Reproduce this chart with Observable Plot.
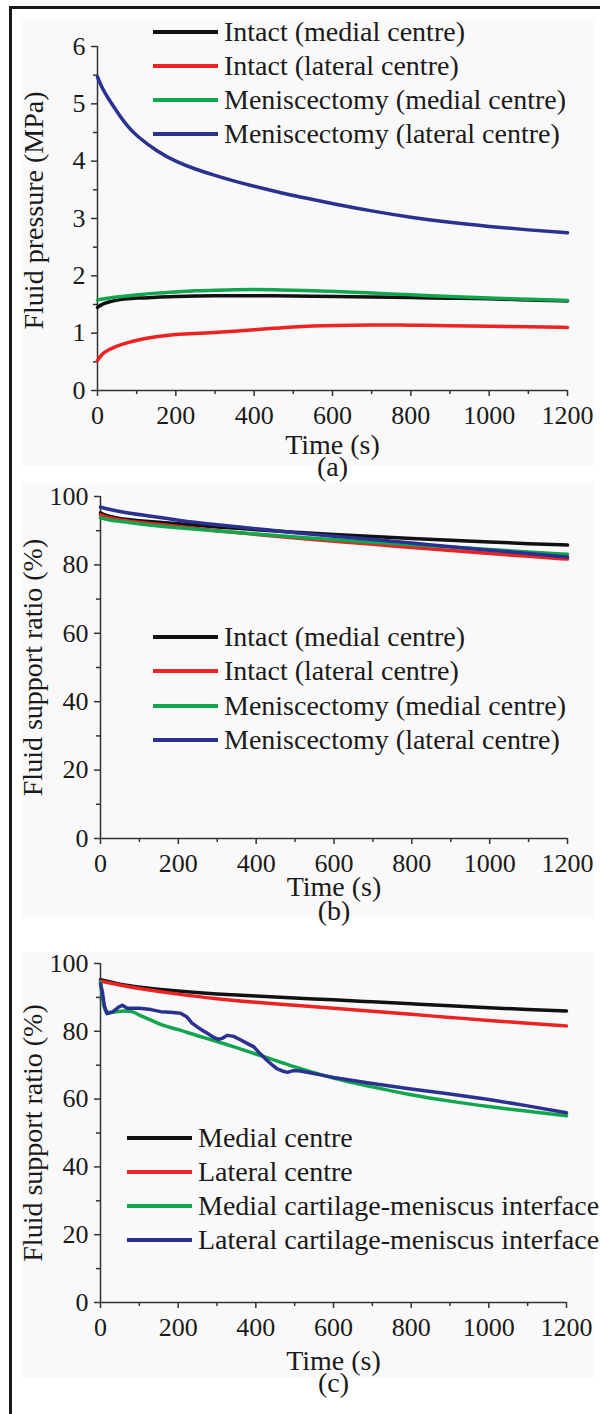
<!DOCTYPE html>
<html><head><meta charset="utf-8">
<script src="https://cdn.jsdelivr.net/npm/d3@7"></script>
<script src="https://cdn.jsdelivr.net/npm/@observablehq/plot@0.6"></script>
<style>
body{margin:0;background:#fff;}
#fig{position:relative;width:600px;height:1414px;overflow:hidden;font-family:'Liberation Serif','Times New Roman',serif;color:#1a1a1a;}
#fig svg text{font-family:'Liberation Serif','Times New Roman',serif !important;}
.bg{position:absolute;background:#f9f9f9;}
.panel{position:absolute;left:0;}
.row{position:absolute;white-space:nowrap;display:flex;align-items:center;height:34px;transform:translateY(-50%);font-size:28px;line-height:34px;}
.row svg{display:block;}
#frame{position:absolute;left:9px;top:6px;width:620px;height:1430px;border-top:3px solid #1a1a1a;border-left:3px solid #1a1a1a;}
</style></head>
<body>
<div id="fig">
  <div class="bg" style="left:22px;top:20px;width:572px;height:446px"></div>
  <div class="bg" style="left:22px;top:483px;width:572px;height:434px"></div>
  <div class="bg" style="left:22px;top:952px;width:572px;height:426px"></div>
  <div id="frame"></div>
</div>
<script>
// ---------- data ----------
// (a) fluid pressure (MPa)
const timeA = [0,10,25,50,75,100,150,200,250,300,350,400,450,500,550,600,700,800,900,1000,1100,1200];
const pressIntactMedial  = [1.45,1.50,1.54,1.58,1.60,1.61,1.63,1.64,1.65,1.65,1.655,1.655,1.65,1.65,1.645,1.64,1.63,1.62,1.61,1.60,1.58,1.56];
const pressIntactLateral = [0.52,0.63,0.70,0.78,0.83,0.88,0.94,0.98,0.995,1.01,1.03,1.06,1.085,1.11,1.125,1.135,1.145,1.14,1.13,1.12,1.11,1.10];
const pressMenMedial     = [1.58,1.59,1.61,1.63,1.65,1.67,1.70,1.72,1.74,1.75,1.76,1.76,1.76,1.75,1.74,1.73,1.70,1.67,1.64,1.61,1.59,1.57];
const pressMenLateral    = [5.47,5.30,5.12,4.86,4.62,4.44,4.18,3.99,3.86,3.75,3.65,3.56,3.48,3.40,3.33,3.26,3.13,3.02,2.93,2.86,2.80,2.75];

// (b) fluid support ratio (%) at centres
const timeB = [0,20,50,100,200,300,400,500,600,700,800,900,1000,1100,1200];
const fsrIntactMedial  = [95.2,94.2,93.5,92.9,92.0,91.1,90.3,89.5,88.9,88.3,87.7,87.2,86.7,86.2,85.8];
const fsrIntactLateral = [94.6,93.8,93.2,92.4,91.2,90.0,88.9,87.8,86.9,86.0,85.1,84.2,83.3,82.5,81.7];
const fsrMenMedial     = [93.8,93.2,92.7,92.0,90.8,89.9,89.0,88.2,87.3,86.6,85.9,85.2,84.5,83.8,83.1];
const fsrMenLateral    = [96.9,96.3,95.6,94.7,93.0,91.7,90.6,89.4,88.4,87.4,86.4,85.3,84.3,83.3,82.3];

// (c) fluid support ratio (%) centres vs interfaces
const timeC = [0,50,100,200,300,400,500,600,700,800,900,1000,1100,1200];
const fsrMedialCentre  = [95.2,93.8,93.0,91.8,91.0,90.4,89.8,89.3,88.7,88.1,87.5,87.0,86.4,86.0];
const fsrLateralCentre = [94.8,93.6,92.6,90.9,89.6,88.5,87.7,86.8,85.9,85.0,84.1,83.2,82.4,81.6];
const timeCMedInt = [0,5,10,15,30,60,80,100,130,160,200,250,300,350,400,450,500,550,600,700,800,900,1000,1100,1200];
const fsrMedialInterface = [94.5,90.0,87.0,85.7,85.6,86.0,85.8,84.8,83.3,81.8,80.5,78.7,77.0,75.2,73.3,71.4,69.5,67.8,66.2,63.6,61.3,59.4,57.8,56.4,55.1];
const timeCLatInt = [0,5,10,17,30,45,56,69,100,130,155,180,206,223,235,249,262,275,290,304,315,326,343,360,380,395,410,429,443,455,468,481,497,515,560,600,700,800,900,1000,1100,1200];
const fsrLateralInterface = [94.0,91.5,87.5,85.2,85.6,87.0,87.7,86.8,86.8,86.4,85.8,85.6,85.3,84.2,82.5,81.3,80.3,79.4,78.3,77.6,78.0,78.8,78.5,77.5,76.3,75.4,73.5,71.4,70.0,68.9,68.3,67.9,68.4,68.3,67.3,66.4,64.6,63.0,61.5,59.9,58.0,56.0];

// labels & ticks
const legendA = ["Intact (medial centre)","Intact (lateral centre)","Meniscectomy (medial centre)","Meniscectomy (lateral centre)"];
const legendC = ["Medial centre","Lateral centre","Medial cartilage-meniscus interface","Lateral cartilage-meniscus interface"];
const xMajor = [0,200,400,600,800,1000,1200];
const xMinor = [100,300,500,700,900,1100];
const yMajorA = [0,1,2,3,4,5,6];
const yMinorA = [0.5,1.5,2.5,3.5,4.5,5.5];
const yMajorB = [0,20,40,60,80,100];
const yMinorB = [10,30,50,70,90];

// ---------- styles ----------
const seriesColors = ["#111111","#ee2222","#10a64e","#2b3190"];
const FONT = "'Liberation Serif', 'Times New Roman', serif";

const toRows = (ts, vs) => ts.map((t,i)=>({t, v: vs[i]}));

function makePanel({top, height, frameTop, frameBottom, mLeft, mRight, yDomain, yMajor, yMinor, series, curves, yLabel, yLabelDx, yLabelDy, tag, xLabelDy, tagDy}) {
  const marks = [
    Plot.axisX(xMajor, {tickSize:6, tickPadding:9, tickFormat:d=>String(d), fontSize:26, fontFamily:FONT, color:"#1a1a1a", stroke:"#333", strokeWidth:1.5, label:null}),
    Plot.axisX(xMinor, {tickSize:4, tickFormat:()=>"", stroke:"#333", strokeWidth:1.5, label:null}),
    Plot.axisY(yMajor, {tickSize:6, tickPadding:6, tickFormat:d=>String(d), fontSize:26, fontFamily:FONT, color:"#1a1a1a", stroke:"#333", strokeWidth:1.5, label:null}),
    Plot.axisY(yMinor, {tickSize:4, tickFormat:()=>"", stroke:"#333", strokeWidth:1.5, label:null}),
    Plot.ruleY([yDomain[0]], {stroke:"#333", strokeWidth:1.5}),
    Plot.ruleX([0], {stroke:"#333", strokeWidth:1.5}),
  ];
  series.forEach((s,i)=>{
    marks.push(Plot.line(s, {x:"t", y:"v", stroke: seriesColors[i], strokeWidth:3.5, curve: curves[i], strokeLinejoin:"round", strokeLinecap:"round"}));
  });
  marks.push(Plot.text(["Time (s)"], {frameAnchor:"bottom", lineAnchor:"bottom", textAnchor:"middle", dy:xLabelDy, text:d=>d, fontSize:28, fontFamily:FONT, fill:"#1a1a1a"}));
  marks.push(Plot.text([tag], {frameAnchor:"bottom", lineAnchor:"bottom", textAnchor:"middle", dy:tagDy, text:d=>d, fontSize:28, fontFamily:FONT, fill:"#1a1a1a"}));
  marks.push(Plot.text([yLabel], {frameAnchor:"left", textAnchor:"middle", lineAnchor:"middle", rotate:-90, dx:yLabelDx, dy:yLabelDy, text:d=>d, fontSize:28, fontFamily:FONT, fill:"#1a1a1a"}));
  const svg = Plot.plot({
    width:600, height,
    marginTop: frameTop-top, marginBottom: top+height-frameBottom,
    marginLeft: mLeft, marginRight: mRight,
    x:{domain:[0,1200]}, y:{domain:yDomain},
    style:{background:"transparent", overflow:"visible", fontFamily:FONT},
    marks
  });
  svg.classList.add("panel");
  svg.style.top = top + "px";
  return svg;
}

function makeLegend(labels, rowYs, lineX, lineW, textGap) {
  const frag = document.createDocumentFragment();
  labels.forEach((lab,i)=>{
    const row = document.createElement("div");
    row.className = "row";
    row.style.left = lineX + "px";
    row.style.top = rowYs[i] + "px";
    row.innerHTML = `<svg width="${lineW}" height="6"><line x1="0" x2="${lineW}" y1="3" y2="3" stroke="${seriesColors[i]}" stroke-width="4"/></svg><span style="margin-left:${textGap}px">${lab}</span>`;
    frag.appendChild(row);
  });
  return frag;
}

const smooth = ["basis","basis","basis","basis"];
const fig = document.getElementById("fig");
fig.appendChild(makePanel({
  top:0, height:500, frameTop:46, frameBottom:390, mLeft:97, mRight:33,
  yDomain:[0,6], yMajor:yMajorA, yMinor:yMinorA,
  series:[toRows(timeA,pressIntactMedial),toRows(timeA,pressIntactLateral),toRows(timeA,pressMenMedial),toRows(timeA,pressMenLateral)],
  curves:smooth,
  yLabel:"Fluid pressure (MPa)", yLabelDx:-63, yLabelDy:-8, tag:"(a)", xLabelDy:63, tagDy:85
}));
fig.appendChild(makePanel({
  top:470, height:480, frameTop:496, frameBottom:838, mLeft:100, mRight:33,
  yDomain:[0,100], yMajor:yMajorB, yMinor:yMinorB,
  series:[toRows(timeB,fsrIntactMedial),toRows(timeB,fsrIntactLateral),toRows(timeB,fsrMenMedial),toRows(timeB,fsrMenLateral)],
  curves:smooth,
  yLabel:"Fluid support ratio (%)", yLabelDx:-67, yLabelDy:0, tag:"(b)", xLabelDy:57, tagDy:81
}));
fig.appendChild(makePanel({
  top:930, height:484, frameTop:963, frameBottom:1302, mLeft:100, mRight:34,
  yDomain:[0,100], yMajor:yMajorB, yMinor:yMinorB,
  series:[toRows(timeC,fsrMedialCentre),toRows(timeC,fsrLateralCentre),toRows(timeCMedInt,fsrMedialInterface),toRows(timeCLatInt,fsrLateralInterface)],
  curves:["basis","basis","monotone-x","linear"],
  yLabel:"Fluid support ratio (%)", yLabelDx:-67, yLabelDy:0, tag:"(c)", xLabelDy:67, tagDy:89
}));
fig.appendChild(makeLegend(legendA, [32,66,100,134], 153, 65, 6));
fig.appendChild(makeLegend(legendA, [637,671,706,740], 153, 65, 6));
fig.appendChild(makeLegend(legendC, [1138,1172,1206,1240], 127, 65, 6));
</script>
</body></html>
